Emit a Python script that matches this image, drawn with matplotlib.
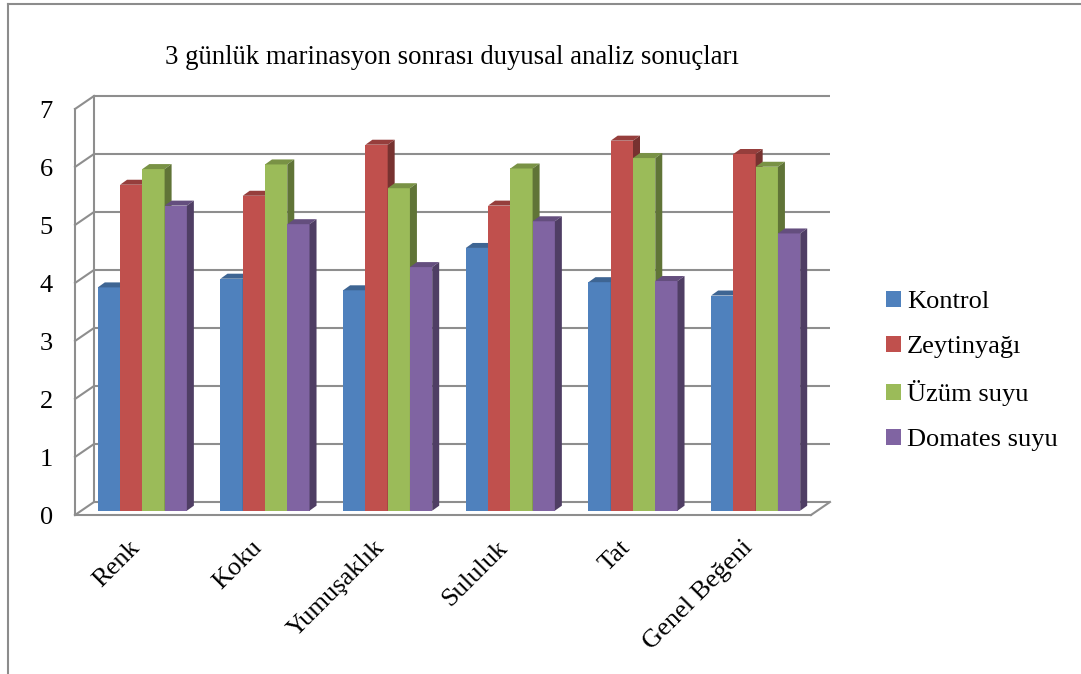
import matplotlib
matplotlib.use("Agg")
import matplotlib.pyplot as plt
from matplotlib.patches import Polygon
from matplotlib.lines import Line2D
import numpy as np

plt.rcParams['font.family'] = ['Liberation Serif', 'DejaVu Serif']

# --- data -------------------------------------------------------------
title = "3 günlük marinasyon sonrası duyusal analiz sonuçları"
categories = ["Renk", "Koku", "Yumuşaklık", "Sululuk", "Tat", "Genel Beğeni"]
series_names = ["Kontrol", "Zeytinyağı", "Üzüm suyu", "Domates suyu"]
kontrol = [3.85, 4.00, 3.80, 4.53, 3.94, 3.71]
zeytinyagi = [5.62, 5.43, 6.31, 5.26, 6.38, 6.15]
uzum_suyu = [5.89, 5.97, 5.56, 5.90, 6.08, 5.93]
domates_suyu = [5.26, 4.94, 4.20, 4.99, 3.96, 4.78]
y_ticks = [0, 1, 2, 3, 4, 5, 6, 7]

series_values = [kontrol, zeytinyagi, uzum_suyu, domates_suyu]
colors = ["#4F81BD", "#C0504D", "#9BBB59", "#8064A2"]

# --- figure / axes ----------------------------------------------------
W, H = 1081, 674
fig = plt.figure(figsize=(W / 100, H / 100), dpi=100)

# front plane of the 3-D box in pixels
x0_px, x1_px = 75, 811
y0_px, y7_px = 515, 109
ax = fig.add_axes([x0_px / W, (H - y0_px) / H, (x1_px - x0_px) / W, (y0_px - y7_px) / H])
ax.set_xlim(0, len(categories))
ax.set_ylim(0, 7)
for s in ax.spines.values():
    s.set_visible(False)

ux = (x1_px - x0_px) / len(categories)   # px per category unit
uy = (y0_px - y7_px) / 7.0               # px per value unit

def px2d(dx, dy):
    return dx / ux, dy / uy

bdx, bdy = px2d(19, 13)     # depth of the whole box
fdx, fdy = px2d(6, 4.3)     # offset of bar front faces
ddx, ddy = px2d(7, 5)       # bar depth

grid_c = "#8E8E8E"
glw = 1.5
n = len(categories)

# back wall gridlines
for k in y_ticks:
    ax.plot([bdx, n + bdx], [k + bdy, k + bdy], color=grid_c, lw=glw,
            clip_on=False, zorder=1, solid_capstyle='butt')
# left wall
ax.plot([0, 0], [0, 7], color=grid_c, lw=glw, clip_on=False, zorder=1)
ax.plot([bdx, bdx], [bdy, 7 + bdy], color=grid_c, lw=glw, clip_on=False, zorder=1)
for k in y_ticks:
    ax.plot([0, bdx], [k, k + bdy], color=grid_c, lw=glw, clip_on=False, zorder=1)
# floor front edge and right edge
ax.plot([0, n], [0, 0], color=grid_c, lw=glw, clip_on=False, zorder=1)
ax.plot([n, n + bdx], [0, bdy], color=grid_c, lw=glw, clip_on=False, zorder=1)

def shade(hexcol, f):
    c = np.array(matplotlib.colors.to_rgb(hexcol))
    return tuple(c * f)

group_w = 0.726
bw = group_w / len(series_values)
x_idx = np.arange(n)

containers = []
z = 3
for j, (vals, col, name) in enumerate(zip(series_values, colors, series_names)):
    lefts = x_idx + 0.5 - group_w / 2 + j * bw + fdx
    bc = ax.bar(lefts, vals, width=bw, bottom=fdy, align='edge', color=col,
                label=name, linewidth=0, clip_on=False)
    containers.append(bc)

# layer the faces so that each bar covers the side of its left neighbour
for i in range(n):
    for j, (vals, col) in enumerate(zip(series_values, colors)):
        patch = containers[j].patches[i]
        patch.set_zorder(z)
        v = vals[i]
        xl = i + 0.5 - group_w / 2 + j * bw + fdx
        xr = xl + bw
        top = v + fdy
        top_face = Polygon([(xl, top), (xr, top), (xr + ddx, top + ddy), (xl + ddx, top + ddy)],
                           closed=True, facecolor=shade(col, 0.78), edgecolor='none',
                           zorder=z + 0.1, clip_on=False)
        side_face = Polygon([(xr, fdy), (xr + ddx, fdy + ddy), (xr + ddx, top + ddy), (xr, top)],
                            closed=True, facecolor=shade(col, 0.62), edgecolor='none',
                            zorder=z + 0.2, clip_on=False)
        ax.add_patch(top_face)
        ax.add_patch(side_face)
        z += 1

# axis labels
ax.set_yticks(y_ticks)
ax.set_yticklabels([str(t) for t in y_ticks], fontsize=19)
ax.tick_params(axis='y', length=0, pad=16)
ax.set_xticks(x_idx + 0.5)
ax.set_xticklabels(categories, fontsize=19, rotation=45, ha='right', va='center',
                   rotation_mode='anchor')
ax.tick_params(axis='x', length=0, pad=21)

# title
fig.text(452 / W, 1 - 57 / H, title, fontsize=19.3, ha='center', va='center')

# legend
fig.legend(handles=containers, labels=series_names, loc='center left',
           bbox_to_anchor=(886 / W, 1 - 371 / H), frameon=False, fontsize=19,
           handlelength=0.55, handleheight=0.55, handletextpad=0.25,
           labelspacing=0.85, borderpad=0, borderaxespad=0)

# outer chart border
fig.add_artist(Line2D([8 / W, 8 / W], [1 - 4 / H, 0], color="#8C8C8C", lw=1.5,
                      transform=fig.transFigure))
fig.add_artist(Line2D([8 / W, 1], [1 - 4 / H, 1 - 4 / H], color="#8C8C8C", lw=1.5,
                      transform=fig.transFigure))

fig.savefig("out.png", dpi=100, facecolor='white')
